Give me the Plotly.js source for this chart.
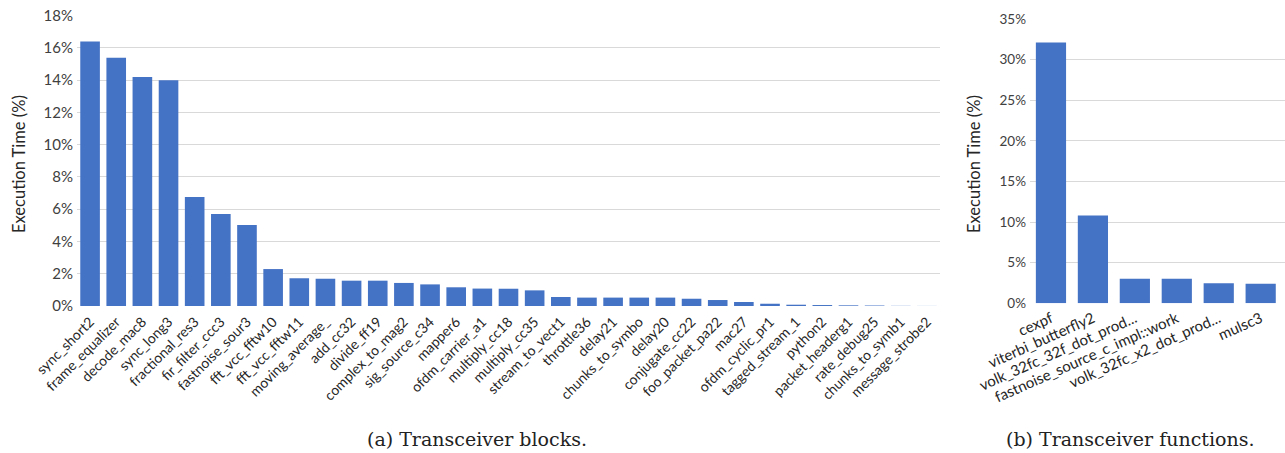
<!DOCTYPE html>
<html>
<head>
<meta charset="utf-8">
<script src="https://cdn.plot.ly/plotly-3.0.1.min.js"></script>
<style>
  html, body { margin: 0; padding: 0; background: #ffffff; }
  #chart { width: 1285px; height: 453px; }
</style>
</head>
<body>
<div id="chart"></div>
<script>
// (a) Execution time share of each transceiver block, in percent
const blockNames = [
  "sync_short2", "frame_equalizer", "decode_mac8", "sync_long3", "fractional_res3",
  "fir_filter_ccc3", "fastnoise_sour3", "fft_vcc_fftw10", "fft_vcc_fftw11", "moving_average_",
  "add_cc32", "divide_ff19", "complex_to_mag2", "sig_source_c34", "mapper6",
  "ofdm_carrier_a1", "multiply_cc18", "multiply_cc35", "stream_to_vect1", "throttle36",
  "delay21", "chunks_to_symbo", "delay20", "conjugate_cc22", "foo_packet_pa22",
  "mac27", "ofdm_cyclic_pr1", "tagged_stream_1", "python2", "packet_headerg1",
  "rate_debug25", "chunks_to_symb1", "message_strobe2"
];
const blockTimes = [
  16.4, 15.4, 14.2, 14.0, 6.76,
  5.70, 5.02, 2.29, 1.72, 1.69,
  1.57, 1.57, 1.43, 1.34, 1.16,
  1.08, 1.07, 0.97, 0.56, 0.52,
  0.52, 0.52, 0.52, 0.45, 0.37,
  0.25, 0.14, 0.08, 0.06, 0.04,
  0.03, 0.01, 0.005
];

// (b) Execution time share of each transceiver function, in percent
const funcNames = [
  "cexpf", "viterbi_butterfly2", "volk_32fc_32f_dot_prod...",
  "fastnoise_source_c_impl::work", "volk_32fc_x2_dot_prod...", "mulsc3"
];
const funcTimes = [32.1, 10.8, 3.03, 3.03, 2.46, 2.41];

const W = 1285, H = 453;
const barColor = "#4472C4";
const gridColor = "#d9d9d9";
const labelFont = "Lato, 'Open Sans', sans-serif";
const capFont = "'DejaVu Serif', 'Liberation Serif', serif";

// pixel box -> paper fraction helpers
const fx = px => px / W;
const fy = py => 1 - py / H;

const traces = [
  {
    type: "bar", x: blockNames, y: blockTimes,
    xaxis: "x", yaxis: "y", width: 0.75,
    marker: { color: barColor }, hoverinfo: "x+y"
  },
  {
    type: "bar", x: funcNames, y: funcTimes,
    xaxis: "x2", yaxis: "y2", width: 0.72,
    marker: { color: barColor }, hoverinfo: "x+y"
  }
];

const commonX = {
  showgrid: false, zeroline: false, showline: false, ticks: "",
  automargin: false, type: "category", fixedrange: true
};
const commonY = {
  showgrid: true, gridcolor: gridColor, gridwidth: 1,
  zeroline: false, showline: false, ticks: "",
  ticksuffix: "%", automargin: false, fixedrange: true
};

const layout = {
  width: W, height: H,
  margin: { l: 0, r: 0, t: 0, b: 0, pad: 0 },
  paper_bgcolor: "#ffffff", plot_bgcolor: "#ffffff",
  showlegend: false,
  font: { family: labelFont, color: "#404040" },
  xaxis: Object.assign({}, commonX, {
    domain: [fx(77), fx(940)], anchor: "y",
    range: [-0.5, blockNames.length - 0.5],
    tickangle: -45,
    ticklabelstandoff: 4,
    tickfont: { family: labelFont, size: 14, color: "#262626" }
  }),
  yaxis: Object.assign({}, commonY, {
    domain: [fy(306), fy(15.7)], anchor: "x",
    range: [0, 18], dtick: 2,
    ticklabelstandoff: 3,
    tickfont: { family: labelFont, size: 15, color: "#404040" }
  }),
  xaxis2: Object.assign({}, commonX, {
    domain: [fx(1030), 1], anchor: "y2",
    range: [-0.5, funcNames.length - 0.42],
    tickangle: -24,
    ticklabelstandoff: 3,
    tickfont: { family: labelFont, size: 15, color: "#262626" }
  }),
  yaxis2: Object.assign({}, commonY, {
    domain: [fy(303.3), fy(19)], anchor: "x2",
    range: [0, 35], dtick: 5,
    ticklabelstandoff: 3,
    tickfont: { family: labelFont, size: 13.5, color: "#404040" }
  }),
  annotations: [
    {
      text: "Execution Time (%)", textangle: -90,
      x: fx(19), y: fy(164), xref: "paper", yref: "paper",
      xanchor: "center", yanchor: "middle", showarrow: false,
      font: { family: labelFont, size: 16.5, color: "#262626" }
    },
    {
      text: "Execution Time (%)", textangle: -90,
      x: fx(974), y: fy(164), xref: "paper", yref: "paper",
      xanchor: "center", yanchor: "middle", showarrow: false,
      font: { family: labelFont, size: 16.5, color: "#262626" }
    },
    {
      text: "(a) Transceiver blocks.",
      x: fx(477), y: fy(439), xref: "paper", yref: "paper",
      xanchor: "center", yanchor: "middle", showarrow: false,
      font: { family: capFont, size: 19, color: "#222222" }
    },
    {
      text: "(b) Transceiver functions.",
      x: fx(1130), y: fy(439), xref: "paper", yref: "paper",
      xanchor: "center", yanchor: "middle", showarrow: false,
      font: { family: capFont, size: 19, color: "#222222" }
    }
  ]
};

Plotly.newPlot("chart", traces, layout, { staticPlot: true, displayModeBar: false });
</script>
</body>
</html>
